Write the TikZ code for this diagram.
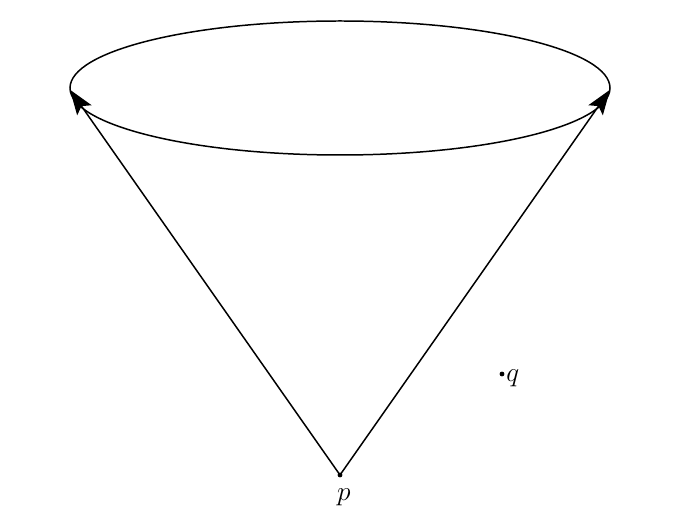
\documentclass[tikz,border=0pt]{standalone}
\usetikzlibrary{arrows.meta}
\begin{document}
\begin{tikzpicture}[
    dot/.style={circle, fill=black, inner sep=0pt, minimum size=5.5pt},
    lbl/.style={font=\Huge, scale=1.25, transform shape},
    cone/.style={line width=1.7pt, black, -{Stealth[length=1cm, width=0.7cm, inset=0.2cm]}}
  ]
        \useasboundingbox (0,0) rectangle (27.32,21.04);
        \draw[line width=1.7pt, black] (13.6,17.52) ellipse (10.8 and 2.68);
        \coordinate (L) at (2.8,17.45);
        \coordinate (R) at (24.4,17.45);
        \node[dot] (p) at (13.6,2.04) {};
        \node[anchor=north, lbl] (plabel) at (13.75,1.65) {$p$};
        \node[dot] (q) at (20.08,6.08) {};
        \node[anchor=west, lbl] (qlabel) at (20.1,5.9) {$q$};
        \draw[cone] (p.center) -- (L);
        \draw[cone] (p.center) -- (R);
    \end{tikzpicture}
\end{document}
